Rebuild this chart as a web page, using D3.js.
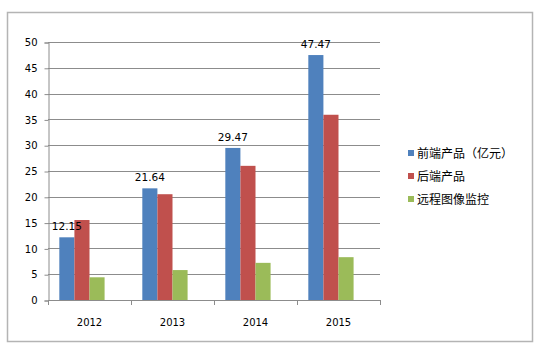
<!DOCTYPE html>
<html><head><meta charset="utf-8">
<script src="https://cdn.jsdelivr.net/npm/d3@7"></script>
<style>body{margin:0;background:#fff}svg{display:block}</style>
</head><body><svg id="c" width="538" height="353"></svg>
<script>
const years = ["2012","2013","2014","2015"];
const seriesNames = ["前端产品（亿元）","后端产品","远程图像监控"];
const frontEnd = [12.15,21.64,29.47,47.47];
const backEnd = [15.5,20.5,26.0,35.9];
const remote = [4.4,5.8,7.2,8.3];
const yTicks = [0,5,10,15,20,25,30,35,40,45,50];
const colors = ["#4F81BD","#C0504D","#9BBB59"];
const seriesValues = [frontEnd, backEnd, remote];

const svg = d3.select("#c");
svg.append("rect").attr("x",7.5).attr("y",12.5).attr("width",525).attr("height",329)
  .attr("fill","#fff").attr("stroke","#b4b4b4").attr("stroke-width",1.5);

const pL=48, pR=380, pT=42, pB=300;
const y = d3.scaleLinear().domain([0,50]).range([pB,pT]);
const x0 = d3.scaleBand().domain(years).range([pL,pR]);
// Excel cluster: 4 slots (one empty) with 150% gap width
const slot = x0.bandwidth()/(4+1.5);
const x1 = d3.scaleBand().domain([0,1,2,3]).range([0,slot*4]);

// gridlines
svg.append("g").selectAll("line").data(yTicks.slice(1)).join("line")
  .attr("x1",pL).attr("x2",pR).attr("y1",d=>Math.round(y(d))+0.5).attr("y2",d=>Math.round(y(d))+0.5)
  .attr("stroke","#8c8c8c").attr("stroke-width",1);

// y axis
const ya = svg.append("g").attr("transform",`translate(${pL+0.5},0.5)`)
  .call(d3.axisLeft(y).tickValues(yTicks).tickSize(4).tickPadding(7));
ya.select(".domain").attr("stroke","#8c8c8c");
ya.selectAll(".tick line").attr("stroke","#8c8c8c");
ya.selectAll("text").attr("font-family","DejaVu Sans, Verdana, sans-serif").attr("font-size",10).attr("fill","#000");

// bars
seriesValues.forEach((vals,si)=>{
  svg.append("g").selectAll("rect").data(vals).join("rect")
    .attr("x",(d,i)=>x0(years[i])+slot*0.75+x1(si))
    .attr("y",d=>y(d)).attr("width",x1.bandwidth()).attr("height",d=>y(0)-y(d))
    .attr("fill",colors[si]);
});

// data labels (front-end)
svg.append("g").selectAll("text").data(frontEnd).join("text")
  .attr("x",(d,i)=>x0(years[i])+slot*0.75+x1(0)+x1.bandwidth()/2)
  .attr("y",d=>y(d)-7).attr("text-anchor","middle")
  .attr("font-family","DejaVu Sans, Verdana, sans-serif").attr("font-size",10.5).attr("fill","#000")
  .text(d=>d.toFixed(2));

// x axis
svg.append("line").attr("x1",pL).attr("x2",pR).attr("y1",pB+0.5).attr("y2",pB+0.5).attr("stroke","#8c8c8c");
const bounds = years.map(yr=>x0(yr)).concat([pR]);
svg.append("g").selectAll("line").data(bounds).join("line")
  .attr("x1",d=>Math.round(d)+0.5).attr("x2",d=>Math.round(d)+0.5).attr("y1",pB).attr("y2",pB+5)
  .attr("stroke","#8c8c8c");
svg.append("g").selectAll("text").data(years).join("text")
  .attr("x",d=>x0(d)+x0.bandwidth()/2).attr("y",pB+26).attr("text-anchor","middle")
  .attr("font-family","DejaVu Sans, Verdana, sans-serif").attr("font-size",10).attr("fill","#000")
  .text(d=>d);

// legend
const lg = svg.append("g").selectAll("g").data(seriesNames).join("g")
  .attr("transform",(d,i)=>`translate(408,${153+i*23})`);
lg.append("rect").attr("x",0).attr("y",-3).attr("width",6).attr("height",6).attr("fill",(d,i)=>colors[i]);
lg.append("text").attr("x",9).attr("y",4.5)
  .attr("font-family","Noto Sans CJK SC, sans-serif").attr("font-size",12).attr("fill","#000")
  .text(d=>d);
</script></body></html>
